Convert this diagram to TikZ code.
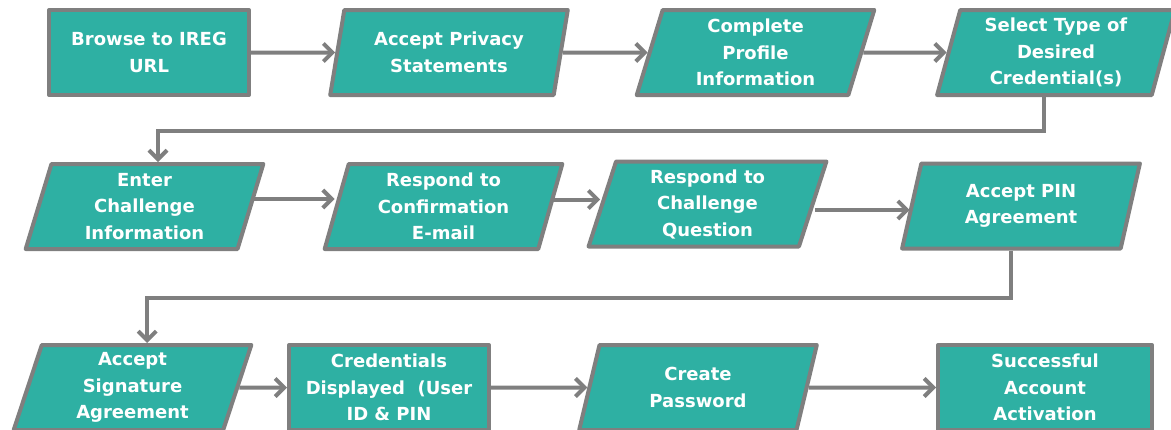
\documentclass[tikz,border=0pt]{standalone}
\usepackage{fontspec}
\setmainfont{DejaVu Sans}
\usetikzlibrary{shapes.geometric,arrows.meta}
\definecolor{boxteal}{HTML}{2EB0A3}
\definecolor{linegray}{HTML}{7F7F7F}
\begin{document}
\begin{tikzpicture}[x=1pt,y=-1pt,
  rbox/.style={rectangle, draw=linegray, line width=4pt, fill=boxteal, text=white, font=\bfseries\fontsize{18}{26.5}\selectfont, align=center, minimum width=200pt, minimum height=85pt, inner sep=0pt, line join=round},
  pbox/.style={rbox, trapezium, trapezium left angle=76, trapezium right angle=104, trapezium stretches=true, minimum width=238pt},
  arr/.style={draw=linegray, line width=4pt, -{Straight Barb[length=9pt,width=18pt]}}]
\useasboundingbox (0,0) rectangle (1171,429);
\node[rbox] (st0) at (149,52.5){Browse to IREG\\URL};
\node[pbox] (st1) at (449,52.5){Accept Privacy\\Statements};
\node[pbox] (st2) at (755.5,52.5){Complete\\Profile\\Information};
\node[pbox] (st3) at (1056,52.5){Select Type of\\Desired\\Credential(s)};
\draw[arr](st0) -- (st1);
\draw[arr](st1) -- (st2);
\draw[arr](st2) -- (st3);
\node[pbox] (st4) at (144.5,206.5){Enter\\Challenge\\Information};
\node[pbox] (st5) at (443.5,206.5){Respond to\\Confirmation\\E-mail};
\node[pbox] (st6) at (707.5,204){Respond to\\Challenge\\Question};
\node[pbox] (st7) at (1021,206){Accept PIN\\Agreement};
\draw[arr](st3.bottom side) -- ++(0,34) -| (st4.top side);
\draw[arr]([yshift=7.5pt]st4.east) -- ([yshift=7.5pt]st4.east -| st5.west);
\draw[arr]([yshift=7pt]st5.east) -- ([yshift=7pt]st5.east -| st6.west);
\draw[arr]([yshift=-6pt]st6.east) -- ([yshift=-6pt]st6.east -| st7.west);
\node[pbox] (st8) at (132.5,387.5){Accept\\Signature\\Agreement};
\node[rbox] (st9) at (389,387.5){Credentials\\Displayed\ \ (User\\ID \& PIN};
\node[pbox] (st10) at (698,387.5){Create\\Password};
\node[rbox, minimum width=214pt] (st11) at (1045,387.5){Successful\\Account\\Activation};
\draw[arr](st7.bottom side) -- ++(0,47) -| (st8.top side);
\draw[arr](st8) -- (st9);
\draw[arr](st9) -- (st10);
\draw[arr](st10) -- (st11);
\end{tikzpicture}
\end{document}
